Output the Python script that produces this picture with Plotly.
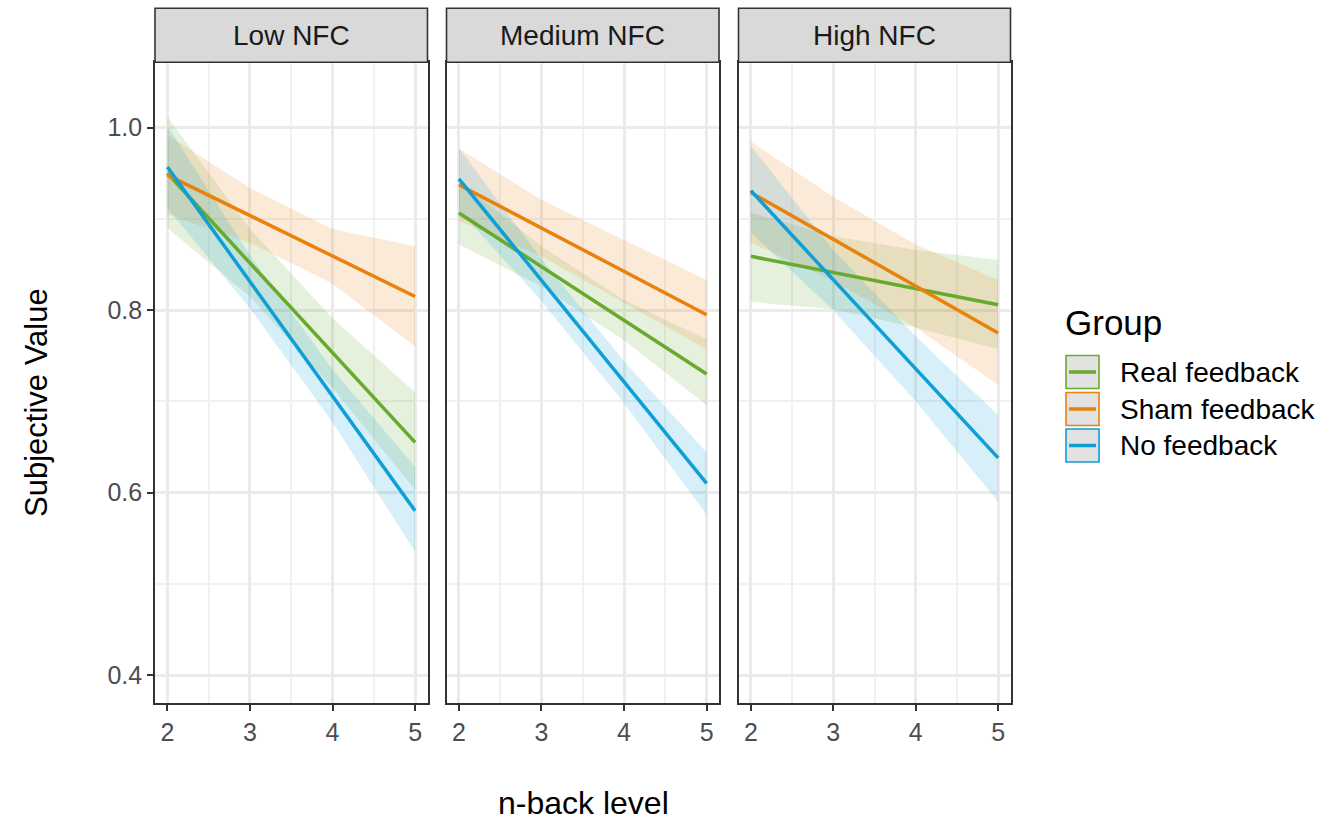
import plotly.graph_objects as go

# ---------------- data ----------------
panels = ["Low NFC", "Medium NFC", "High NFC"]
groups = ["Real feedback", "Sham feedback", "No feedback"]
colors = ["#66AA2E", "#E8820C", "#0E9FD6"]
fills = ["rgba(102,170,46,0.17)", "rgba(240,130,30,0.17)", "rgba(20,160,214,0.17)"]

line_x = [2, 5]
# fitted line values at n-back 2 and 5, per panel, per group
fit_low = {"Real feedback": [0.950, 0.655], "Sham feedback": [0.948, 0.815], "No feedback": [0.957, 0.580]}
fit_med = {"Real feedback": [0.9065, 0.730], "Sham feedback": [0.9375, 0.795], "No feedback": [0.944, 0.610]}
fit_high = {"Real feedback": [0.859, 0.806], "Sham feedback": [0.929, 0.775], "No feedback": [0.931, 0.638]}

band_x = [2, 3, 4, 5]
lo_low = {"Real feedback": [0.890, 0.815, 0.715, 0.603], "Sham feedback": [0.905, 0.874, 0.829, 0.760], "No feedback": [0.912, 0.802, 0.677, 0.535]}
hi_low = {"Real feedback": [1.012, 0.889, 0.791, 0.710], "Sham feedback": [0.992, 0.934, 0.889, 0.870], "No feedback": [1.002, 0.860, 0.735, 0.628]}
lo_med = {"Real feedback": [0.872, 0.826, 0.767, 0.696], "Sham feedback": [0.898, 0.859, 0.808, 0.757], "No feedback": [0.910, 0.810, 0.698, 0.576]}
hi_med = {"Real feedback": [0.942, 0.870, 0.811, 0.768], "Sham feedback": [0.977, 0.921, 0.877, 0.833], "No feedback": [0.978, 0.856, 0.744, 0.644]}
lo_high = {"Real feedback": [0.809, 0.801, 0.781, 0.757], "Sham feedback": [0.874, 0.832, 0.781, 0.718], "No feedback": [0.885, 0.800, 0.700, 0.590]}
hi_high = {"Real feedback": [0.907, 0.881, 0.866, 0.855], "Sham feedback": [0.985, 0.924, 0.872, 0.833], "No feedback": [0.980, 0.866, 0.771, 0.685]}

x_ticks = [2, 3, 4, 5]
x_minor = [2.5, 3.5, 4.5]
y_ticks = [0.4, 0.6, 0.8, 1.0]
y_ticklabels = ["0.4", "0.6", "0.8", "1.0"]
y_minor = [0.5, 0.7, 0.9]

fits = [fit_low, fit_med, fit_high]
los = [lo_low, lo_med, lo_high]
his = [hi_low, hi_med, hi_high]

# ---------------- layout geometry ----------------
W, H = 1332, 822
def px(x):
    return x / W
def py(y):
    return 1 - y / H

panel_px = [(155, 427.5), (446.5, 719), (738.5, 1010.5)]
top_px, bottom_px = 62.3, 703
strip_top = 8.3
FONT = "Liberation Sans, Arial, sans-serif"

fig = go.Figure()

for p in range(3):
    xa = "x" if p == 0 else f"x{p+1}"
    ya = "y" if p == 0 else f"y{p+1}"
    for g, name in enumerate(groups):
        lo = los[p][name]
        hi = his[p][name]
        fig.add_trace(go.Scatter(
            x=band_x + band_x[::-1], y=hi + lo[::-1], xaxis=xa, yaxis=ya,
            fill="toself", fillcolor=fills[g], line=dict(width=0),
            mode="lines", hoverinfo="skip", showlegend=False))
    for g, name in enumerate(groups):
        fig.add_trace(go.Scatter(
            x=line_x, y=fits[p][name], xaxis=xa, yaxis=ya, mode="lines",
            line=dict(color=colors[g], width=3.5), name=name, showlegend=False))

grid_major = "#EBEBEB"
grid_minor = "#F1F1F1"
tickfont = dict(family=FONT, size=25, color="#4D4D4D")

for p in range(3):
    xkey = "xaxis" if p == 0 else f"xaxis{p+1}"
    ykey = "yaxis" if p == 0 else f"yaxis{p+1}"
    x0, x1 = panel_px[p]
    fig.layout[xkey] = dict(
        domain=[px(x0), px(x1)], range=[1.85, 5.15], anchor="y" if p == 0 else f"y{p+1}",
        tickvals=x_ticks, ticktext=[str(v) for v in x_ticks],
        showgrid=True, gridcolor=grid_major, gridwidth=2.5,
        minor=dict(tickvals=x_minor, showgrid=True, gridcolor=grid_minor, gridwidth=1.5, ticks=""),
        showline=True, mirror=True, linecolor="#333333", linewidth=1.6,
        ticks="outside", ticklen=6, tickwidth=2, tickcolor="#333333",
        tickfont=tickfont, zeroline=False, fixedrange=True)
    fig.layout[ykey] = dict(
        domain=[py(bottom_px), py(top_px)], range=[0.3693, 1.0717],
        anchor="x" if p == 0 else f"x{p+1}",
        tickvals=y_ticks, ticktext=y_ticklabels,
        showgrid=True, gridcolor=grid_major, gridwidth=2.5,
        minor=dict(tickvals=y_minor, showgrid=True, gridcolor=grid_minor, gridwidth=1.5, ticks=""),
        showline=True, mirror=True, linecolor="#333333", linewidth=1.6,
        ticks="outside" if p == 0 else "", ticklen=6, tickwidth=2, tickcolor="#333333",
        showticklabels=(p == 0), tickfont=tickfont, zeroline=False, fixedrange=True)

shapes = []
annotations = []
# strips
for p in range(3):
    x0, x1 = panel_px[p]
    shapes.append(dict(type="rect", xref="paper", yref="paper",
                       x0=px(x0), x1=px(x1), y0=py(top_px), y1=py(strip_top),
                       fillcolor="#D9D9D9", line=dict(color="#333333", width=1.6), layer="above"))
    annotations.append(dict(text=panels[p], xref="paper", yref="paper",
                            x=px((x0 + x1) / 2), y=py((top_px + strip_top) / 2),
                            showarrow=False, xanchor="center", yanchor="middle",
                            font=dict(family=FONT, size=28, color="#1A1A1A")))

# axis titles
annotations.append(dict(text="n-back level", xref="paper", yref="paper", x=px(583), y=py(803),
                        showarrow=False, xanchor="center", yanchor="middle",
                        font=dict(family=FONT, size=32, color="#000000")))
annotations.append(dict(text="Subjective Value", xref="paper", yref="paper", x=px(36), y=py(403),
                        showarrow=False, xanchor="center", yanchor="middle", textangle=-90,
                        font=dict(family=FONT, size=31, color="#000000")))

# legend
annotations.append(dict(text="Group", xref="paper", yref="paper", x=px(1063), y=py(322),
                        showarrow=False, xanchor="left", yanchor="middle",
                        font=dict(family=FONT, size=35, color="#000000")))
key_y = [372, 409, 445.5]
for g, name in enumerate(groups):
    cy = key_y[g]
    shapes.append(dict(type="rect", xref="paper", yref="paper",
                       x0=px(1066), x1=px(1099), y0=py(cy + 16.5), y1=py(cy - 16.5),
                       fillcolor="#E2E2E2", line=dict(color=colors[g], width=1.6)))
    shapes.append(dict(type="line", xref="paper", yref="paper",
                       x0=px(1069), x1=px(1096), y0=py(cy), y1=py(cy),
                       line=dict(color=colors[g], width=3.5)))
    annotations.append(dict(text=name, xref="paper", yref="paper", x=px(1118), y=py(cy),
                            showarrow=False, xanchor="left", yanchor="middle",
                            font=dict(family=FONT, size=28, color="#000000")))

fig.update_layout(
    width=W, height=H, margin=dict(l=0, r=0, t=0, b=0),
    paper_bgcolor="white", plot_bgcolor="white",
    shapes=shapes, annotations=annotations, showlegend=False)

fig.write_html("out.html", config={"displayModeBar": False},
               post_script="document.body.style.margin='0px';document.body.style.overflow='hidden';")
